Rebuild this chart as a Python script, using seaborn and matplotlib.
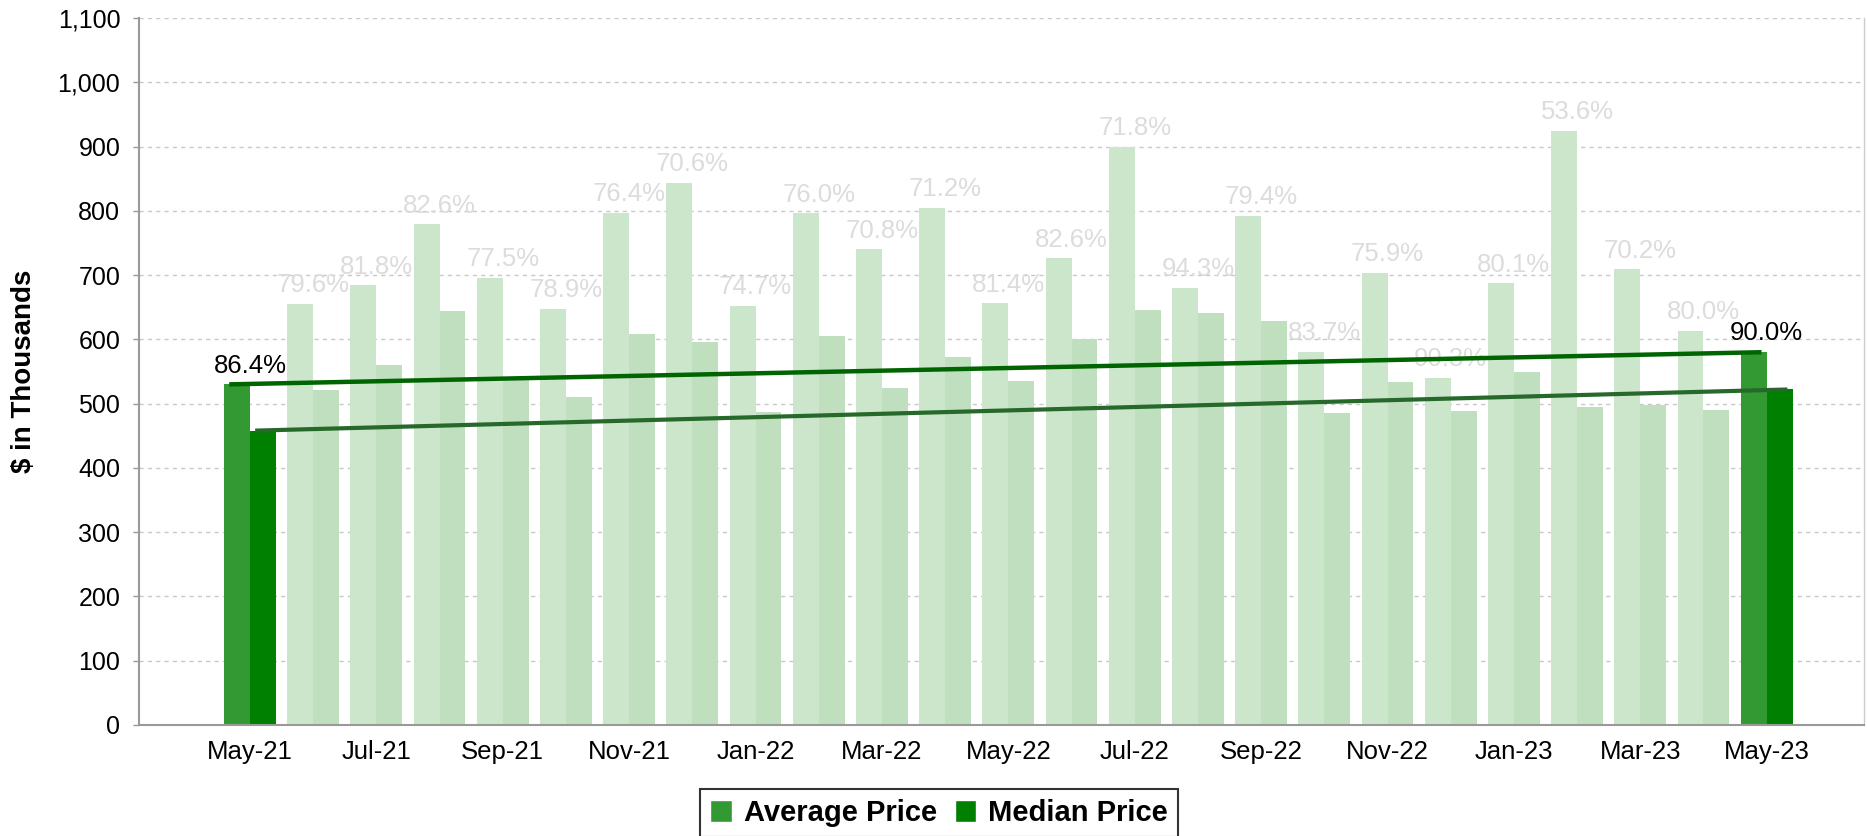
"""Average vs median price by month, May-21 to May-23."""

import matplotlib
matplotlib.use('Agg')
import matplotlib.pyplot as plt
from matplotlib.colors import to_rgb
from matplotlib.patches import Patch
from matplotlib.ticker import FuncFormatter
import seaborn as sns
import pandas as pd
import numpy as np

# Data ($ thousands)
months = ['May-21', 'Jun-21', 'Jul-21', 'Aug-21', 'Sep-21', 'Oct-21', 'Nov-21',
          'Dec-21', 'Jan-22', 'Feb-22', 'Mar-22', 'Apr-22', 'May-22', 'Jun-22',
          'Jul-22', 'Aug-22', 'Sep-22', 'Oct-22', 'Nov-22', 'Dec-22', 'Jan-23',
          'Feb-23', 'Mar-23', 'Apr-23', 'May-23']
avg_price = [530, 655, 684, 779, 695, 647, 797, 843, 652, 796, 740, 804, 656,
             726, 900, 680, 792, 580, 703, 540, 687, 924, 709, 613, 580]
median_price = [458, 521, 560, 644, 539, 510, 608, 596, 487, 605, 525, 572, 535,
                600, 646, 641, 629, 485, 534, 488, 550, 495, 498, 490, 522]
ratio_labels = ['86.4%', '79.6%', '81.8%', '82.6%', '77.5%', '78.9%', '76.4%',
                '70.6%', '74.7%', '76.0%', '70.8%', '71.2%', '81.4%', '82.6%',
                '71.8%', '94.3%', '79.4%', '83.7%', '75.9%', '90.3%', '80.1%',
                '53.6%', '70.2%', '80.0%', '90.0%']
series_names = ['Average Price', 'Median Price']

avg_color = '#339933'
med_color = '#008000'


def fade(c, a=0.25):
    rgb = np.array(to_rgb(c))
    return tuple(1 - a * (1 - rgb))


n = len(months)
highlight = {0, n - 1}

df = pd.DataFrame({
    'Month': months * 2,
    'Price': avg_price + median_price,
    'Series': [series_names[0]] * n + [series_names[1]] * n,
})

sns.set_style('white')
plt.rcParams['font.family'] = ['Liberation Sans', 'DejaVu Sans']
plt.rcParams['text.color'] = 'black'
plt.rcParams['axes.labelcolor'] = 'black'
plt.rcParams['xtick.color'] = 'black'
plt.rcParams['ytick.color'] = 'black'

W, H = 1867, 836
fig = plt.figure(figsize=(W / 100, H / 100), dpi=100)
ax = fig.add_axes([139 / W, 1 - 725 / H, (1864 - 139) / W, (725 - 18) / H])

sns.barplot(data=df, x='Month', y='Price', hue='Series',
            palette=[avg_color, med_color], width=0.82, saturation=1,
            dodge=True, legend=False, ax=ax, zorder=2)

# highlight first and last month, fade the rest
for container, base in zip(ax.containers, [avg_color, med_color]):
    for i, bar in enumerate(container):
        bar.set_facecolor(base if i in highlight else fade(base))
        bar.set_edgecolor('none')

# trend lines between first and last bars
for container, vals, col, lw in zip(ax.containers, [avg_price, median_price],
                                   ['#006400', '#27692a'], [3.2, 3.0]):
    first, last = container[0], container[-1]
    x0 = first.get_x() + first.get_width() * 0.2
    x1 = last.get_x() + last.get_width() * 0.8
    ax.plot([x0, x1], [vals[0], vals[-1]], color=col, lw=lw,
            solid_capstyle='butt', zorder=5)

# median / average ratio labels
for i, lab in enumerate(ratio_labels):
    top = max(avg_price[i], median_price[i])
    ax.annotate(lab, (i, top), xytext=(0, 8.5), textcoords='offset points',
                ha='center', va='baseline', fontsize=18.5,
                color='black' if i in highlight else '#dcdcdc', zorder=4)

ax.set_xlim(-1.756, 25.54)
ax.set_ylim(0, 1100)
ax.set_yticks(range(0, 1101, 100))
ax.yaxis.set_major_formatter(FuncFormatter(lambda v, p: f'{v:,.0f}'))

ax.set_xticks(range(0, n, 2))
ax.set_xticklabels(months[::2])
ax.set_xticks(range(1, n, 2), minor=True)
ax.tick_params(axis='x', which='major', length=0, pad=11, labelsize=18.5)
ax.tick_params(axis='x', which='minor', length=25, width=1, color='#a8a8a8',
               direction='out')
ax.tick_params(axis='y', length=4.5, width=1, color='#999999', pad=9,
               labelsize=18, labelcolor='black', left=True)

ax.set_xlabel('')
ax.set_ylabel('$ in Thousands', fontsize=20, fontweight='bold')
ax.yaxis.set_label_coords(-0.059, 0.5)

ax.set_axisbelow(True)
ax.yaxis.grid(True, linestyle=(0, (3, 3)), color='#c8c8c8', lw=1)
ax.xaxis.grid(False)

for side in ['left', 'bottom']:
    ax.spines[side].set_color('#999999')
    ax.spines[side].set_linewidth(1.5)
ax.spines['top'].set_visible(False)
ax.spines['right'].set_color('#cccccc')
ax.spines['right'].set_linewidth(1)

handles = [Patch(facecolor=avg_color), Patch(facecolor=med_color)]
leg = fig.legend(handles, series_names, loc='upper center',
                 bbox_to_anchor=(0.503, 1 - 789 / H), ncol=2, frameon=True,
                 fancybox=False, edgecolor='black',
                 prop={'weight': 'bold', 'size': 21},
                 handlelength=0.75, handleheight=0.75, handletextpad=0.4,
                 columnspacing=0.6, borderpad=0.35, borderaxespad=0)
leg.get_frame().set_linewidth(1.5)

fig.savefig('out.png', dpi=100)
plt.close()
